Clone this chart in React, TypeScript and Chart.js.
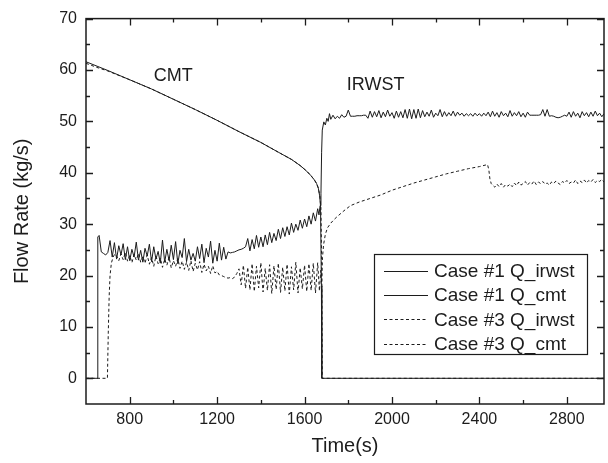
import React, { useEffect, useRef } from "react";
import { Chart, registerables } from "chart.js";

Chart.register(...registerables);

// ---------- axes ----------
const X_MIN = 600;
const X_MAX = 2970;
const Y_MIN = -5;
const Y_MAX = 70;
const X_TICKS = [800, 1200, 1600, 2000, 2400, 2800];
const X_MINOR = [1000, 1400, 1800, 2200, 2600];
const Y_TICKS = [0, 10, 20, 30, 40, 50, 60, 70];
const Y_MINOR = [5, 15, 25, 35, 45, 55, 65];
const X_TITLE = "Time(s)";
const Y_TITLE = "Flow Rate (kg/s)";

// ---------- series labels ----------
const LABELS = ["Case #1 Q_irwst", "Case #1 Q_cmt", "Case #3 Q_irwst", "Case #3 Q_cmt"];

// ---------- annotations (data coordinates) ----------
const NOTES = [
  { text: "CMT", x: 999, y: 58.9 },
  { text: "IRWST", x: 1925, y: 57.0 },
];

// ---------- Case #1 Q_cmt ----------
const C1_CMT_T = [600, 700, 800, 900, 1000, 1100, 1200, 1300, 1400, 1480, 1540, 1580, 1610, 1630, 1645, 1655, 1663, 1669, 1673, 1677, 1679, 2970];
const C1_CMT_V = [61.6, 59.9, 58.1, 56.3, 54.3, 52.3, 50.2, 48.0, 45.9, 44.0, 42.6, 41.4, 40.3, 39.4, 38.6, 37.9, 37.0, 35.5, 33.5, 18, 0, 0];

// ---------- Case #3 Q_cmt ----------
const C3_CMT_T = [600, 650, 700, 800, 900, 1000, 1100, 1200, 1300, 1400, 1480, 1540, 1580, 1610, 1630, 1645, 1655, 1663, 1670, 1675, 1679, 1681, 2970];
const C3_CMT_V = [61.3, 60.5, 59.8, 58.1, 56.3, 54.3, 52.3, 50.2, 48.0, 45.9, 44.0, 42.6, 41.4, 40.3, 39.4, 38.6, 37.9, 37.0, 35.5, 33.0, 20, 0, 0];

// ---------- Case #1 Q_irwst ----------
const C1_IRWST_LEAD_T = [600, 652, 654];
const C1_IRWST_LEAD_V = [0, 0, 27.5];
const C1_IRWST_A_START = 660; // sampled every 10 s
const C1_IRWST_A = [
  27.8, 24.6, 24.3, 24.0, 24.5, 26.8, 23.6, 26.4, 23.2, 25.8,
  24.0, 26.2, 23.1, 25.6, 22.9, 25.1, 23.6, 26.5, 23.0, 24.9,
  22.6, 25.3, 23.8, 26.1, 22.7, 25.6, 23.2, 24.7, 22.4, 26.9,
  22.6, 25.1, 22.9, 25.9, 23.1, 26.6, 22.3, 24.9, 23.5, 27.2,
  22.7, 25.1, 23.0, 24.3, 22.8, 25.6, 23.3, 26.1, 22.5, 25.3,
  23.6, 26.7, 22.4, 24.9, 22.8, 26.3, 23.0, 25.5, 23.2, 24.6,
  24.4, 24.5, 24.6, 24.8, 25.0, 25.1, 25.3, 25.6,
  27.2, 24.8, 27.0, 25.2, 27.8, 25.5, 27.5, 25.6, 27.9, 26.0,
  28.4, 26.4, 28.2, 26.8, 29.0, 27.2, 29.3, 27.6, 29.5, 27.9,
  30.2, 28.4, 30.0, 28.8, 30.8, 29.2, 31.0, 29.5, 31.6, 30.0,
  32.2, 30.6, 33.0,
];
const C1_IRWST_JUMP_T = [1666, 1671, 1675, 1678, 1681, 1688, 1695, 1702, 1708, 1714];
const C1_IRWST_JUMP_V = [31.8, 33.6, 36.0, 44.0, 48.3, 49.9, 49.3, 50.6, 50.0, 51.5];
const C1_IRWST_B_START = 1720; // sampled every 10 s
const C1_IRWST_B = [
  50.4, 51.2, 50.5, 51.0, 50.6, 51.3, 50.8, 51.0, 52.2, 51.0,
  51.0, 51.0, 51.1, 51.1, 51.1, 51.2, 51.2, 50.6, 52.0, 50.8,
  51.9, 50.9, 52.1, 50.7, 51.8, 50.9, 52.2, 51.0, 51.7, 50.6,
  52.0, 50.8, 51.9, 50.7, 52.3, 50.6, 52.4, 50.5, 52.3, 50.6,
  52.4, 50.7, 52.1, 50.9, 51.8, 51.0, 52.2, 50.8, 51.6, 51.1,
  52.3, 50.9, 51.9, 51.0, 51.7, 51.1, 52.0, 51.0, 51.8, 51.2,
  51.6, 51.0, 51.5, 51.1, 51.5, 51.0, 51.6, 51.1, 51.5, 51.0,
  51.6, 51.1, 51.8, 50.9, 52.0, 51.0, 51.7, 50.8, 51.9, 51.1,
  51.6, 50.9, 52.1, 51.0, 51.7, 51.1, 51.9, 50.9, 51.6, 50.8,
  51.8, 51.2, 51.2, 51.2, 51.2, 51.2, 51.3, 52.3, 51.0, 52.3,
  51.0, 51.1, 51.0, 50.8, 50.7, 50.8, 51.0, 51.2, 51.0, 51.8,
  50.8, 51.9, 51.0, 51.6, 50.7, 51.9, 51.1, 51.7, 50.9, 51.8,
  51.0, 52.0, 51.1, 51.6, 50.9, 51.5,
];

// ---------- Case #3 Q_irwst ----------
const C3_IRWST_LEAD_T = [600, 698, 702, 706, 710, 716, 724, 732];
const C3_IRWST_LEAD_V = [0, 0, 9, 16, 20, 22.4, 23.6, 24.2];
const C3_IRWST_A_START = 740; // sampled every 10 s
const C3_IRWST_A = [
  23.8, 22.9, 24.2, 23.1, 24.5, 22.8, 23.9, 22.5, 24.1, 23.0,
  24.3, 22.6, 23.7, 22.4, 24.0, 22.2, 23.5, 21.8, 23.8, 22.3,
  23.4, 21.6, 23.2, 22.0, 23.6, 21.5, 22.9, 21.8, 23.3, 21.4,
  22.8, 21.2, 22.6, 21.0, 22.9, 20.8, 22.4, 21.1, 22.7, 20.6,
  22.2, 20.9, 21.8, 20.4, 21.9, 20.5, 20.8, 20.1, 20.0, 19.8,
  19.6, 19.5, 19.6, 19.4, 19.7, 20.4, 21.3,
  18.2, 22.0, 17.5, 21.6, 17.2, 22.3, 16.9, 21.8, 17.6, 22.5,
  16.8, 21.4, 17.1, 22.1, 16.5, 21.9, 17.3, 22.4, 16.7, 21.6,
  17.0, 22.2, 16.4, 21.7, 17.2, 22.6, 16.6, 21.5, 17.4, 22.0,
  16.9, 22.3, 17.1, 22.4, 16.6, 22.5,
];
const C3_IRWST_RISE_T = [1668, 1674, 1678, 1682, 1687, 1695, 1705, 1720, 1735, 1750, 1780, 1810, 1850, 1900, 1950, 2000, 2050, 2100, 2150, 2200, 2250, 2300, 2350, 2400, 2437, 2443, 2448, 2454];
const C3_IRWST_RISE_V = [17.0, 21.0, 18.5, 23.5, 26.0, 28.0, 29.3, 30.2, 30.9, 31.5, 32.6, 33.6, 34.3, 35.0, 35.7, 36.6, 37.3, 38.0, 38.6, 39.2, 39.8, 40.3, 40.8, 41.2, 41.6, 40.6, 38.8, 37.9];
const C3_IRWST_B_START = 2460; // sampled every 10 s
const C3_IRWST_B = [
  37.6, 37.2, 37.8, 37.3, 37.9, 37.2, 37.7, 37.4, 37.8, 37.3,
  38.0, 37.5, 38.2, 37.6, 37.9, 38.3, 37.6, 38.1, 37.8, 38.4,
  37.7, 38.2, 37.9, 38.3, 37.8, 38.0, 37.6, 38.2, 37.9, 38.4,
  38.0, 37.7, 38.3, 38.0, 38.5, 37.9, 38.2, 38.0, 38.6, 37.9,
  38.4, 38.1, 38.6, 38.0, 38.5, 38.2, 38.7, 38.1, 38.5, 38.3,
  38.7, 38.2,
];

const STEP = 10;
const sampleTimes = (start: number, n: number) => Array.from({ length: n }, (_, i) => start + i * STEP);
const toPoints = (t: number[], v: number[]) => t.map((x, i) => ({ x, y: v[i] }));

const INK = "#1c1c1c";
const FONT = "'Liberation Sans', Arial, Helvetica, sans-serif";
const DOT = [3, 2.5];

function buildDatasets() {
  const c1IrwstT = [
    ...C1_IRWST_LEAD_T,
    ...sampleTimes(C1_IRWST_A_START, C1_IRWST_A.length),
    ...C1_IRWST_JUMP_T,
    ...sampleTimes(C1_IRWST_B_START, C1_IRWST_B.length),
  ];
  const c1IrwstV = [...C1_IRWST_LEAD_V, ...C1_IRWST_A, ...C1_IRWST_JUMP_V, ...C1_IRWST_B];
  const c3IrwstT = [
    ...C3_IRWST_LEAD_T,
    ...sampleTimes(C3_IRWST_A_START, C3_IRWST_A.length),
    ...C3_IRWST_RISE_T,
    ...sampleTimes(C3_IRWST_B_START, C3_IRWST_B.length),
  ];
  const c3IrwstV = [...C3_IRWST_LEAD_V, ...C3_IRWST_A, ...C3_IRWST_RISE_V, ...C3_IRWST_B];
  const base = { pointRadius: 0, borderWidth: 1, tension: 0, fill: false, borderColor: INK };
  return [
    { ...base, label: LABELS[0], data: toPoints(c1IrwstT, c1IrwstV), borderDash: [] as number[] },
    { ...base, label: LABELS[1], data: toPoints(C1_CMT_T, C1_CMT_V), borderDash: [] as number[] },
    { ...base, label: LABELS[2], data: toPoints(c3IrwstT, c3IrwstV), borderDash: DOT },
    { ...base, label: LABELS[3], data: toPoints(C3_CMT_T, C3_CMT_V), borderDash: DOT },
  ];
}

const decorPlugin = {
  id: "decor",
  afterDatasetsDraw(chart: any) {
    const { ctx, scales } = chart;
    ctx.save();
    ctx.fillStyle = INK;
    ctx.font = `18px ${FONT}`;
    ctx.textAlign = "center";
    ctx.textBaseline = "middle";
    NOTES.forEach((n) => {
      ctx.fillText(n.text, scales.x.getPixelForValue(n.x), scales.y.getPixelForValue(n.y));
    });
    ctx.restore();
  },
  afterDraw(chart: any) {
    const { ctx, chartArea: a, scales } = chart;
    const xs = scales.x;
    const ys = scales.y;
    ctx.save();
    ctx.strokeStyle = INK;
    ctx.lineWidth = 1.5;
    ctx.setLineDash([]);
    ctx.strokeRect(a.left, a.top, a.right - a.left, a.bottom - a.top);

    ctx.lineWidth = 1.3;
    ctx.beginPath();
    const xTick = (v: number, len: number) => {
      const px = Math.round(xs.getPixelForValue(v)) + 0.5;
      ctx.moveTo(px, a.bottom);
      ctx.lineTo(px, a.bottom - len);
      ctx.moveTo(px, a.top);
      ctx.lineTo(px, a.top + len);
    };
    const yTick = (v: number, len: number) => {
      const py = Math.round(ys.getPixelForValue(v)) + 0.5;
      ctx.moveTo(a.left, py);
      ctx.lineTo(a.left + len, py);
      ctx.moveTo(a.right, py);
      ctx.lineTo(a.right - len, py);
    };
    X_TICKS.forEach((v) => xTick(v, 7));
    X_MINOR.forEach((v) => xTick(v, 4));
    Y_TICKS.forEach((v) => yTick(v, 7));
    Y_MINOR.forEach((v) => yTick(v, 4));
    ctx.stroke();

    // legend box
    const bx = a.right - 230;
    const by = a.bottom - 150;
    const bw = 213;
    const bh = 100;
    ctx.fillStyle = "#ffffff";
    ctx.fillRect(bx, by, bw, bh);
    ctx.lineWidth = 1.2;
    ctx.strokeStyle = INK;
    ctx.strokeRect(bx + 0.5, by + 0.5, bw, bh);
    ctx.font = `19px ${FONT}`;
    ctx.textAlign = "left";
    ctx.textBaseline = "middle";
    chart.data.datasets.forEach((ds: any, i: number) => {
      const ry = by + 16.5 + i * 24.4;
      ctx.beginPath();
      ctx.lineWidth = 1;
      ctx.strokeStyle = ds.borderColor;
      ctx.setLineDash(ds.borderDash || []);
      ctx.moveTo(bx + 10, Math.round(ry) + 0.5);
      ctx.lineTo(bx + 54, Math.round(ry) + 0.5);
      ctx.stroke();
      ctx.setLineDash([]);
      ctx.fillStyle = INK;
      ctx.fillText(ds.label, bx + 60, ry + 1);
    });
    ctx.restore();
  },
};

export default function App() {
  const ref = useRef<HTMLCanvasElement | null>(null);
  useEffect(() => {
    if (!ref.current) return;
    const chart = new Chart(ref.current, {
      type: "line",
      data: { datasets: buildDatasets() as any },
      options: {
        animation: false,
        responsive: false,
        maintainAspectRatio: false,
        layout: { padding: { top: 14, right: 4, left: 0, bottom: 0 } },
        plugins: { legend: { display: false }, tooltip: { enabled: false } },
        scales: {
          x: {
            type: "linear",
            min: X_MIN,
            max: X_MAX,
            grid: { display: false, drawTicks: false },
            border: { display: false },
            afterBuildTicks: (s: any) => {
              s.ticks = X_TICKS.map((value) => ({ value }));
            },
            afterFit: (s: any) => {
              s.height = 59;
            },
            ticks: {
              color: INK,
              font: { family: FONT, size: 16 },
              padding: 6,
              maxRotation: 0,
              autoSkip: false,
              callback: (v: any) => String(v),
            },
            title: {
              display: true,
              text: X_TITLE,
              color: INK,
              font: { family: FONT, size: 20, lineHeight: 1.2 },
              padding: { top: 0, bottom: 5 },
            },
          },
          y: {
            type: "linear",
            min: Y_MIN,
            max: Y_MAX,
            grid: { display: false, drawTicks: false },
            border: { display: false },
            afterBuildTicks: (s: any) => {
              s.ticks = Y_TICKS.map((value) => ({ value }));
            },
            afterFit: (s: any) => {
              s.width = 86;
            },
            ticks: {
              color: INK,
              font: { family: FONT, size: 16 },
              padding: 9,
              autoSkip: false,
              callback: (v: any) => String(v),
            },
            title: {
              display: true,
              text: Y_TITLE,
              color: INK,
              font: { family: FONT, size: 20, lineHeight: 1.2 },
              padding: { top: 10, bottom: 0 },
            },
          },
        },
      },
      plugins: [decorPlugin],
    });
    return () => chart.destroy();
  }, []);
  return (
    <div style={{ position: "fixed", left: 0, top: 0, width: 608, height: 463, background: "#fff" }}>
      <canvas ref={ref} width={608} height={463} style={{ display: "block" }} />
    </div>
  );
}
